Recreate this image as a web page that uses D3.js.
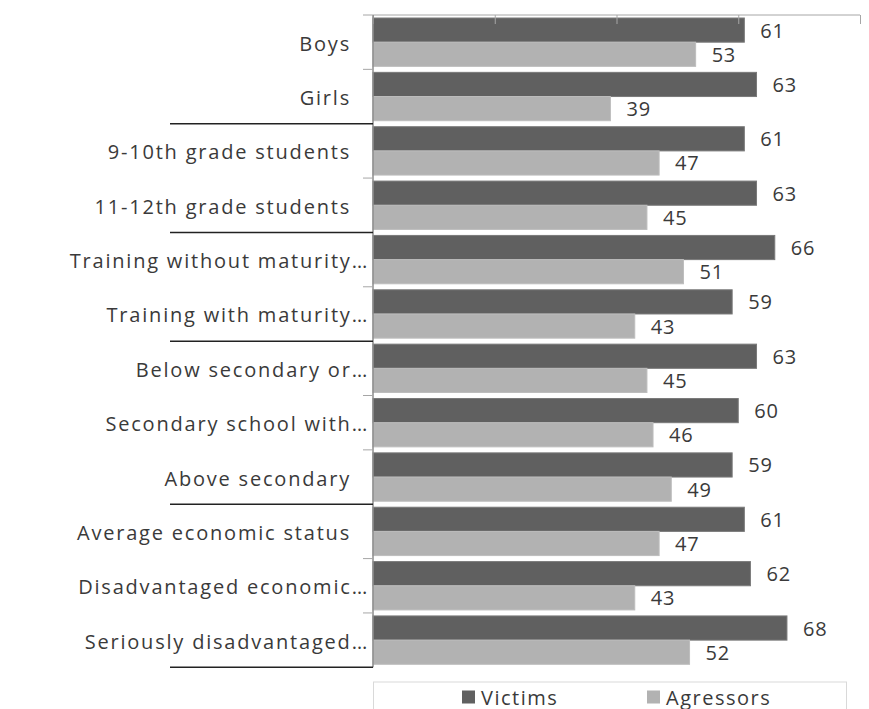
<!DOCTYPE html>
<html><head><meta charset="utf-8">
<script src="https://cdn.jsdelivr.net/npm/d3@7"></script>
<style>
html,body{margin:0;padding:0;background:#fff;}
svg{display:block;}
text{font-family:"Open Sans","Noto Sans",sans-serif;fill:#3a3a3a;}
</style></head>
<body>
<svg id="chart" width="869" height="709"></svg>
<script>
const categories = ["Boys","Girls","9-10th grade students","11-12th grade students",
  "Training without maturity…","Training with maturity…","Below secondary or…",
  "Secondary school with…","Above secondary","Average economic status",
  "Disadvantaged economic…","Seriously disadvantaged…"];
const victims =   [61,63,61,63,66,59,63,60,59,61,62,68];
const agressors = [53,39,47,45,51,43,45,46,49,47,43,52];
const seriesNames = ["Victims","Agressors"];
const groupSizes = [2,2,2,3,3];
const xTicks = [0,20,40,60,80];
const colors = ["#606060","#b2b2b2"];

const svg = d3.select("#chart");
const x = d3.scaleLinear().domain([0,80]).range([373,860]);
const y = d3.scaleBand().domain(categories).range([15,667.3]).padding(0);
const yInner = d3.scaleBand().domain(seriesNames).range([3, y.bandwidth()-3]).padding(0);

const data = categories.map((c,i)=>({cat:c, vals:[victims[i], agressors[i]]}));

// bars
const g = svg.append("g");
data.forEach(d=>{
  seriesNames.forEach((s,j)=>{
    const v = d.vals[j];
    const yy = y(d.cat)+yInner(s);
    g.append("rect")
      .attr("x", x(0)).attr("y", yy)
      .attr("width", x(v)-x(0)).attr("height", yInner.bandwidth())
      .attr("fill", colors[j]).attr("stroke", j===0?"#7a7a7a":"#bdbdbd").attr("stroke-width",1);
    g.append("text")
      .attr("x", x(v)+16).attr("y", yy+yInner.bandwidth()/2)
      .attr("dominant-baseline","central")
      .style("font-size","20px").style("letter-spacing","0.8px")
      .text(v);
  });
});

// top axis
const xAxis = d3.axisTop(x).tickValues(xTicks).tickSize(-9).tickFormat("");
const ax = svg.append("g").attr("transform","translate(0,15)").call(xAxis);
ax.select(".domain").attr("stroke","#a6a6a6").attr("d","M373,0H860");
ax.selectAll(".tick line").attr("stroke","#a6a6a6");

// left axis line
svg.append("line").attr("x1",373).attr("x2",373).attr("y1",15).attr("y2",667.3)
  .attr("stroke","#8c8c8c").attr("stroke-width",1.5);

// boundaries
const groupEnds = new Set();
let acc = 0;
groupSizes.forEach(n=>{acc+=n; groupEnds.add(acc);});
for (let i=0;i<=categories.length;i++){
  const yy = i<categories.length ? y(categories[i]) : y.range()[1];
  if (groupEnds.has(i)) {
    svg.append("line").attr("x1",170).attr("x2",373).attr("y1",yy).attr("y2",yy)
      .attr("stroke","#222").attr("stroke-width",1.5);
  } else {
    svg.append("line").attr("x1",363).attr("x2",373).attr("y1",yy).attr("y2",yy)
      .attr("stroke","#a6a6a6").attr("stroke-width",1);
  }
}

// category labels
categories.forEach(c=>{
  const trunc = c.endsWith("…");
  svg.append("text")
    .attr("x", trunc?369:351).attr("y", y(c)+y.bandwidth()/2+1)
    .attr("text-anchor","end").attr("dominant-baseline","central")
    .style("font-size","20px").style("letter-spacing","1.8px")
    .text(c);
});

// legend
svg.append("rect").attr("x",373.5).attr("y",682).attr("width",473).attr("height",40)
  .attr("fill","#fff").attr("stroke","#d9d9d9");
const legX = [462,647];
seriesNames.forEach((s,j)=>{
  svg.append("rect").attr("x",legX[j]).attr("y",690.5).attr("width",13).attr("height",13)
    .attr("fill",colors[j]);
  svg.append("text").attr("x",legX[j]+19).attr("y",697).attr("dominant-baseline","central")
    .style("font-size","20px").style("letter-spacing","1.5px").text(s);
});
</script>
</body></html>
